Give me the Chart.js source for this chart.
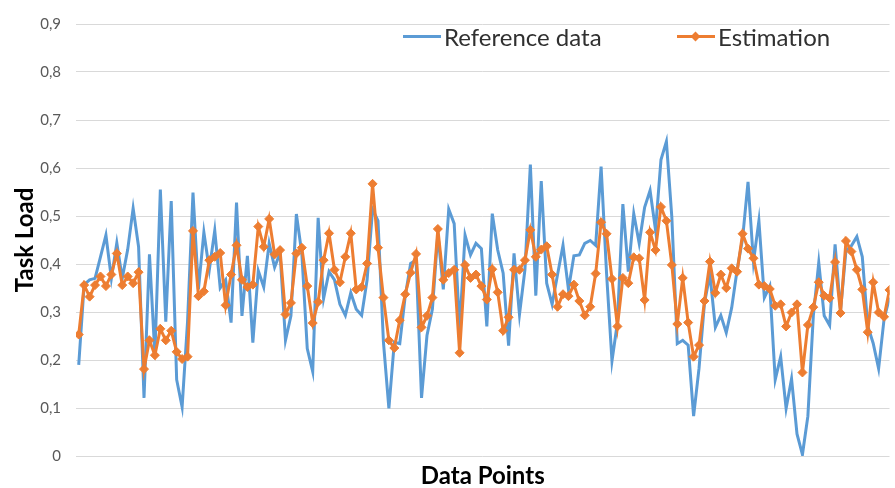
<!DOCTYPE html>
<html>
<head>
<meta charset="utf-8">
<script src="https://cdn.jsdelivr.net/npm/chart.js@4.4.1/dist/chart.umd.min.js"></script>
<style>
  body { margin: 0; background: #fff; }
  #wrap { position: relative; width: 895px; height: 488px; overflow: hidden; }
  #legend .item { position: absolute; top: 22px; height: 28px; display: flex; align-items: center;
    font-family: Lato, "Open Sans", sans-serif; font-size: 24px; color: #303030; white-space: nowrap; }
  #legend .swatch { position: relative; width: 38px; height: 3px; margin-right: 3px; }
  #legend .diamond { position: absolute; left: 15px; top: -2px; width: 7px; height: 7px; transform: rotate(45deg); }
</style>
</head>
<body>
<div id="wrap">
  <canvas id="myChart" width="895" height="488"></canvas>
  <div id="legend"></div>
</div>
<script>
// data points 1..150
var points = [];
for (var n = 1; n <= 150; n++) points.push(n);

var reference = [
  0.190,0.357,0.367,0.370,0.415,0.460,0.370,0.444,0.370,0.430,
  0.516,0.436,0.121,0.420,0.210,0.555,0.280,0.531,0.159,0.102,
  0.280,0.549,0.347,0.466,0.388,0.470,0.350,0.367,0.278,0.528,
  0.292,0.417,0.236,0.386,0.352,0.443,0.393,0.423,0.241,0.292,
  0.504,0.422,0.224,0.176,0.496,0.328,0.384,0.367,0.316,0.293,
  0.340,0.306,0.293,0.367,0.514,0.490,0.237,0.099,0.237,0.234,
  0.333,0.401,0.408,0.121,0.251,0.306,0.463,0.347,0.514,0.484,
  0.265,0.460,0.419,0.443,0.432,0.270,0.505,0.429,0.381,0.230,
  0.422,0.295,0.388,0.607,0.334,0.573,0.360,0.316,0.378,0.439,
  0.347,0.417,0.419,0.443,0.449,0.439,0.603,0.381,0.198,0.278,
  0.525,0.384,0.505,0.443,0.518,0.553,0.471,0.617,0.655,0.497,
  0.234,0.241,0.231,0.083,0.183,0.319,0.378,0.268,0.293,0.257,
  0.309,0.388,0.453,0.571,0.405,0.490,0.330,0.354,0.159,0.207,
  0.099,0.161,0.046,0.003,0.083,0.292,0.403,0.292,0.272,0.441,
  0.303,0.428,0.438,0.457,0.415,0.271,0.235,0.182,0.285,0.330
];

var estimation = [
  0.253,0.356,0.332,0.356,0.374,0.354,0.378,0.422,0.356,0.374,
  0.360,0.383,0.181,0.241,0.210,0.265,0.241,0.261,0.217,0.202,
  0.207,0.469,0.333,0.343,0.408,0.415,0.423,0.314,0.378,0.439,
  0.367,0.352,0.357,0.478,0.436,0.494,0.420,0.429,0.295,0.319,
  0.422,0.434,0.354,0.277,0.321,0.408,0.464,0.388,0.362,0.415,
  0.464,0.347,0.352,0.401,0.567,0.434,0.330,0.241,0.225,0.283,
  0.337,0.382,0.421,0.268,0.292,0.330,0.473,0.367,0.381,0.388,
  0.215,0.398,0.371,0.378,0.354,0.326,0.389,0.341,0.261,0.289,
  0.388,0.388,0.408,0.471,0.415,0.430,0.437,0.378,0.311,0.337,
  0.333,0.357,0.323,0.293,0.311,0.380,0.487,0.463,0.369,0.270,
  0.371,0.360,0.414,0.412,0.325,0.466,0.429,0.519,0.490,0.398,
  0.275,0.371,0.278,0.207,0.231,0.323,0.405,0.340,0.378,0.350,
  0.391,0.384,0.463,0.432,0.412,0.357,0.354,0.348,0.313,0.316,
  0.270,0.299,0.316,0.174,0.273,0.310,0.362,0.334,0.329,0.404,
  0.298,0.448,0.426,0.388,0.347,0.258,0.362,0.299,0.290,0.346
];

var yTicks = ['0','0,1','0,2','0,3','0,4','0,5','0,6','0,7','0,8','0,9'];

var blue = '#5B9BD5';
var orange = '#ED7D31';
var fontName = 'Lato, "Open Sans", sans-serif';

var ctx = document.getElementById('myChart').getContext('2d');
var myChart = new Chart(ctx, {
    type: 'line',
    data: {
        labels: points,
        datasets: [{
            label: 'Reference data',
            data: reference,
            borderColor: blue,
            backgroundColor: blue,
            borderWidth: 3,
            pointRadius: 0,
            tension: 0,
            order: 1
        }, {
            label: 'Estimation',
            data: estimation,
            borderColor: orange,
            backgroundColor: orange,
            borderWidth: 3,
            pointStyle: 'rectRot',
            pointRadius: 4.5,
            pointBorderWidth: 1,
            tension: 0,
            order: 0
        }]
    },
    options: {
        responsive: false,
        animation: false,
        layout: { padding: { top: 17, left: 0, right: 0, bottom: 0 } },
        plugins: {
            legend: { display: false },
            tooltip: { enabled: false }
        },
        scales: {
            x: {
                type: 'linear',
                min: 0.5,
                max: 150,
                ticks: { display: false },
                grid: { display: false },
                border: { display: false },
                title: {
                    display: true,
                    text: 'Data Points',
                    color: '#000',
                    font: { family: fontName, size: 24, weight: 'bold', lineHeight: 1 },
                    padding: { top: 0, bottom: 0 }
                },
                afterFit: function(scale){ scale.height = 32; }
            },
            y: {
                min: 0,
                max: 0.9,
                ticks: {
                    stepSize: 0.1,
                    padding: 15,
                    color: '#595959',
                    font: { family: fontName, size: 15 },
                    callback: function(v, i){ return yTicks[i]; }
                },
                grid: { color: '#d9d9d9', lineWidth: 1, drawTicks: false },
                border: { display: false },
                title: {
                    display: true,
                    text: 'Task Load',
                    color: '#000',
                    font: { family: fontName, size: 24, weight: 'bold', lineHeight: 1 },
                    padding: { top: 13, bottom: 0 }
                },
                afterFit: function(scale){ scale.width = 76; }
            }
        }
    }
});

// legend drawn as html over the plot, like the original
var legendLeft = [403, 677];
var legendBox = document.getElementById('legend');
myChart.data.datasets.forEach(function(ds, i){
    var item = document.createElement('div');
    item.className = 'item';
    item.style.left = legendLeft[i] + 'px';
    var sw = document.createElement('div');
    sw.className = 'swatch';
    sw.style.background = ds.borderColor;
    if (ds.pointStyle === 'rectRot') {
        var d = document.createElement('div');
        d.className = 'diamond';
        d.style.background = ds.borderColor;
        sw.appendChild(d);
    }
    item.appendChild(sw);
    item.appendChild(document.createTextNode(ds.label));
    legendBox.appendChild(item);
});
</script>
</body>
</html>
